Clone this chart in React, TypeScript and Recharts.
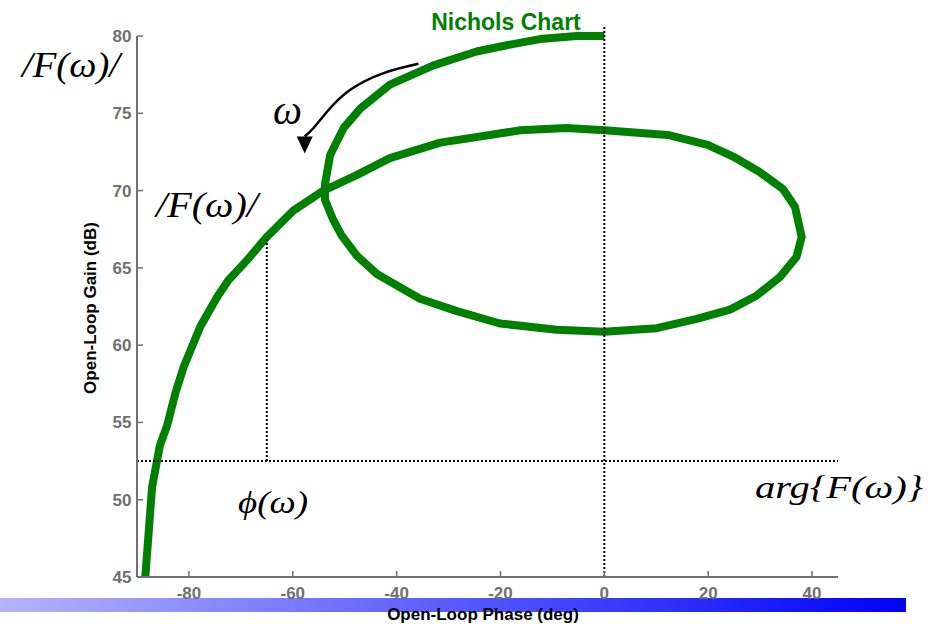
import React from 'react';
import { LineChart, Line, XAxis, YAxis, ReferenceLine } from 'recharts';

// Open-loop frequency response traced in the gain/phase plane (low to high frequency)
const phaseDeg = [
  -88.4, -87.1, -85.6, -84.2, -82.6, -81.0, -77.8, -74.6, -72.4, -68.8, -65.0, -59.9, -54.1,
  -47.7, -41.3, -31.6, -16.2, -7.3, 0.0, 12.2, 19.9, 24.8, 29.9, 34.4, 36.7, 38.0, 37.0, 33.8,
  29.3, 24.2, 17.8, 10.1, 0.0, -9.2, -20.1, -28.4, -35.5, -43.8, -47.7, -50.6, -52.2, -53.8,
  -53.8, -52.8, -50.2, -47.0, -41.3, -32.9, -24.6, -18.8, -12.4, -5.3, 0.0,
];
const gainDb = [
  45.0, 50.8, 53.5, 54.8, 56.9, 58.6, 61.2, 63.1, 64.2, 65.5, 67.0, 68.7, 70.0,
  71.0, 72.1, 73.1, 73.9, 74.05, 73.9, 73.6, 72.95, 72.2, 71.2, 70.1, 68.96, 67.0, 65.7, 64.4,
  63.2, 62.3, 61.7, 61.1, 60.87, 61.0, 61.4, 62.2, 63.0, 64.6, 65.8, 67.1, 68.1, 69.4,
  70.4, 72.3, 74.05, 75.3, 76.85, 78.1, 79.0, 79.4, 79.8, 80.0, 80.0,
];

// Direction-of-increasing-frequency arrow
const arrowPhase = [-35.8, -42.5, -49.0, -53.4, -56.0, -57.7];
const arrowGain = [78.2, 77.6, 76.5, 75.1, 74.05, 73.5];

const phaseTicks = [-80, -60, -40, -20, 0, 20, 40];
const gainTicks = [45, 50, 55, 60, 65, 70, 75, 80];
const phaseDomain = [-90, 45];
const gainDomain = [45, 80];

// Construction lines
const levelGain = 52.5;
const markerPhase = -65;
const markerGain = 67;
const zeroPhase = 0;
const zeroLineTop = 80.6;

const curveData = phaseDeg.map((x, i) => ({ x, y: gainDb[i] }));
const arrowData = arrowPhase.map((x, i) => ({ x, y: arrowGain[i] }));

const AXIS_GREY = '#707070';
const CURVE_GREEN = '#008000';
const SANS = '"Liberation Sans", Arial, sans-serif';
const SERIF = '"Liberation Serif", "Times New Roman", serif';

const ArrowHead = (props: any) => {
  const { cx, cy, index } = props;
  if (index !== arrowData.length - 1 || cx == null || cy == null) {
    return <g key={`ah-${index}`} />;
  }
  return (
    <path
      key={`ah-${index}`}
      d={`M${cx - 8},${cy} L${cx + 8},${cy} L${cx},${cy + 17} Z`}
      fill="#000"
    />
  );
};

const MathText = ({ x, y, size, width, children }: any) => (
  <text
    x={x}
    y={y}
    fontFamily={SERIF}
    fontStyle="italic"
    fontSize={size}
    fill="#000"
    textLength={width}
    lengthAdjust="spacingAndGlyphs"
  >
    {children}
  </text>
);

export default function App() {
  const tickStyle = { fill: AXIS_GREY, fontFamily: SANS, fontWeight: 700, fontSize: 17 };
  const dotted = { stroke: '#000', strokeWidth: 2, strokeDasharray: '2 2' };
  return (
    <div style={{ position: 'absolute', left: 0, top: 0, width: 944, height: 626, background: '#fff' }}>
      <LineChart width={944} height={626} margin={{ top: 36, right: 106, bottom: 19, left: 97 }}>
        <defs>
          <linearGradient id="footerBar" x1="0" y1="0" x2="1" y2="0">
            <stop offset="0%" stopColor="#b4b4ff" />
            <stop offset="100%" stopColor="#0000ff" />
          </linearGradient>
        </defs>
        <rect x={0} y={598} width={906} height={14} fill="url(#footerBar)" />

        <XAxis
          xAxisId={0}
          type="number"
          dataKey="x"
          domain={phaseDomain}
          ticks={phaseTicks}
          height={30}
          tickSize={-6}
          tickMargin={16}
          fontSize={17}
          tick={tickStyle}
          axisLine={{ stroke: AXIS_GREY, strokeWidth: 2 }}
          tickLine={{ stroke: AXIS_GREY, strokeWidth: 1.5 }}
        />
        <XAxis
          xAxisId="top"
          orientation="top"
          type="number"
          domain={phaseDomain}
          ticks={phaseTicks}
          height={0}
          tickSize={-6}
          tick={false}
          axisLine={{ stroke: AXIS_GREY, strokeWidth: 2 }}
          tickLine={{ stroke: AXIS_GREY, strokeWidth: 1.5 }}
        />
        <YAxis
          yAxisId={0}
          type="number"
          domain={gainDomain}
          ticks={gainTicks}
          width={40}
          tickSize={-6}
          tickMargin={11.5}
          fontSize={17}
          tick={tickStyle}
          axisLine={{ stroke: AXIS_GREY, strokeWidth: 2 }}
          tickLine={{ stroke: AXIS_GREY, strokeWidth: 1.5 }}
        />
        <YAxis
          yAxisId="right"
          orientation="right"
          type="number"
          domain={gainDomain}
          ticks={gainTicks}
          width={0}
          tickSize={-6}
          tick={false}
          axisLine={{ stroke: AXIS_GREY, strokeWidth: 2 }}
          tickLine={{ stroke: AXIS_GREY, strokeWidth: 1.5 }}
        />

        <Line
          data={curveData}
          dataKey="y"
          type="linear"
          stroke={CURVE_GREEN}
          strokeWidth={8}
          strokeLinejoin="round"
          dot={false}
          activeDot={false}
          isAnimationActive={false}
        />
        <Line
          data={arrowData}
          dataKey="y"
          type="natural"
          stroke="#000"
          strokeWidth={2.5}
          dot={ArrowHead}
          activeDot={false}
          isAnimationActive={false}
        />

        <ReferenceLine y={levelGain} {...dotted} />
        <ReferenceLine
          segment={[{ x: zeroPhase, y: gainDomain[0] }, { x: zeroPhase, y: zeroLineTop }]}
          ifOverflow="visible"
          {...dotted}
        />
        <ReferenceLine
          segment={[{ x: markerPhase, y: levelGain }, { x: markerPhase, y: markerGain }]}
          {...dotted}
        />

        <text x={506} y={30} textAnchor="middle" fontFamily={SANS} fontWeight={700} fontSize={23} fill={CURVE_GREEN}>
          Nichols Chart
        </text>
        <text x={483} y={620} textAnchor="middle" fontFamily={SANS} fontWeight={700} fontSize={17} fill="#000">
          Open-Loop Phase (deg)
        </text>
        <text
          x={0}
          y={0}
          transform="translate(96,308) rotate(-90)"
          textAnchor="middle"
          fontFamily={SANS}
          fontWeight={700}
          fontSize={17}
          fill="#000"
        >
          Open-Loop Gain (dB)
        </text>

        <MathText x={22} y={77} size={35} width={98}>/F(ω)/</MathText>
        <MathText x={273} y={124} size={42} width={29}>ω</MathText>
        <MathText x={156} y={217} size={35} width={102}>/F(ω)/</MathText>
        <MathText x={238} y={513} size={31} width={70}>ϕ(ω)</MathText>
        <MathText x={755} y={498} size={31} width={168}>arg{'{'}F(ω){'}'}</MathText>
      </LineChart>
    </div>
  );
}
